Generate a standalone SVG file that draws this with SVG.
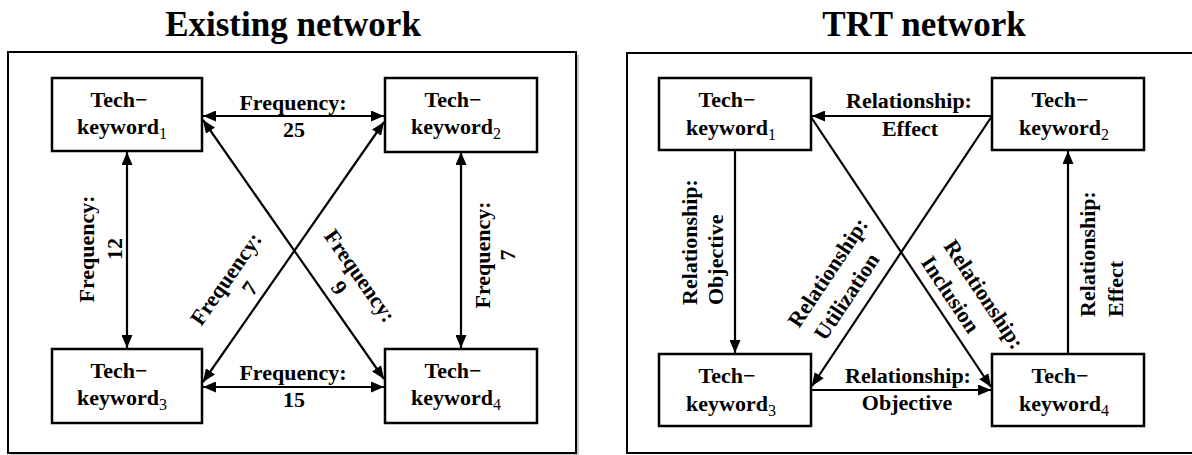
<svg xmlns="http://www.w3.org/2000/svg" width="1192" height="455" viewBox="0 0 1192 455">
<style>
text{font-family:"Liberation Serif","Times New Roman",serif;font-weight:bold;fill:#000}
.t{font-size:35px;text-anchor:middle}
.n{font-size:22px;text-anchor:middle}
.sub{font-size:16px;font-weight:normal}
.l{font-size:22px;text-anchor:middle}
.ls{font-size:22px;text-anchor:start}
.box{fill:#fff;stroke:#000;stroke-width:2.5}
.frame{fill:#fff;stroke:#000;stroke-width:2}
.e{fill:none;stroke:#000;stroke-width:2.2}
.d{marker-start:url(#ah);marker-end:url(#ah)}
.s{marker-end:url(#ah)}
</style>
<defs>
<marker id="ah" viewBox="0 0 13 11" refX="13" refY="5.5" markerWidth="13" markerHeight="11" markerUnits="userSpaceOnUse" orient="auto-start-reverse">
<path d="M0,0 L13,5.5 L0,11 Z" fill="#000"/>
</marker>
</defs>
<rect width="1192" height="455" fill="#fff"/>
<text class="t" x="293" y="36">Existing network</text>
<text class="t" x="924" y="36">TRT network</text>
<g id="frame-left">
<rect x="11" y="55" width="568" height="401" fill="#c8c8c8"/>
<rect class="frame" x="8" y="52" width="568" height="401"/>
</g>
<g id="frame-right">
<rect class="frame" x="627" y="53" width="575" height="400"/>
</g>
<g id="connectors">
<path class="e d" d="M203,116 L384,116"/>
<path class="e d" d="M127,152 L127,348"/>
<path class="e d" d="M461,152 L461,348"/>
<path class="e d" d="M203,387 L384,387"/>
<path class="e d" d="M203,120 L384,379"/>
<path class="e d" d="M384,122 L203,382"/>
<path class="e s" d="M991,116 L812,116"/>
<path class="e s" d="M735,151 L735,353"/>
<path class="e s" d="M1068,353 L1068,151"/>
<path class="e s" d="M812,390 L991,390"/>
<path class="e s" d="M992,116 L812,386"/>
<path class="e s" d="M811,117 L991,387"/>
</g>
<g id="edge-labels">
<text class="l" x="293" y="110">Frequency:</text>
<text class="l" x="294" y="137">25</text>
<text class="l" x="293" y="380">Frequency:</text>
<text class="l" x="294" y="407">15</text>
<g transform="translate(94,249) rotate(-90)"><text class="l" x="0" y="0">Frequency:</text><text class="l" x="0" y="28">12</text></g>
<g transform="translate(490,255) rotate(-90)"><text class="l" x="0" y="0">Frequency:</text><text class="l" x="0" y="25">7</text></g>
<g transform="translate(232,283) rotate(-55)"><text class="l" x="0" y="0">Frequency:</text><text class="l" x="6" y="25">7</text></g>
<g transform="translate(354,280) rotate(55)"><text class="l" x="0" y="0">Frequency:</text><text class="l" x="-2" y="24">9</text></g>
<text class="l" x="909" y="108">Relationship:</text>
<text class="l" x="910" y="136">Effect</text>
<text class="l" x="908" y="383">Relationship:</text>
<text class="l" x="907" y="410">Objective</text>
<g transform="translate(697,305) rotate(-90)"><text class="ls" x="0" y="0">Relationship:</text><text class="ls" x="0" y="26">Objective</text></g>
<g transform="translate(1095,317) rotate(-90)"><text class="ls" x="0" y="0">Relationship:</text><text class="ls" x="0" y="28">Effect</text></g>
<g transform="translate(799,329) rotate(-56.3)"><text class="ls" x="0" y="0">Relationship:</text><text class="ls" x="4" y="29">Utilization</text></g>
<g transform="translate(943,246) rotate(56.3)"><text class="ls" x="0" y="0">Relationship:</text><text class="ls" x="1" y="28">Inclusion</text></g>
</g>
<g id="L1"><rect class="box" x="52" y="78" width="150" height="73"/><text class="n" x="119" y="107">Tech−</text><text class="n" x="122" y="134">keyword<tspan class="sub" dy="5">1</tspan></text></g>
<g id="L2"><rect class="box" x="385" y="78" width="152" height="74"/><text class="n" x="453" y="107">Tech−</text><text class="n" x="456" y="134">keyword<tspan class="sub" dy="5">2</tspan></text></g>
<g id="L3"><rect class="box" x="52" y="349" width="150" height="74"/><text class="n" x="119" y="378">Tech−</text><text class="n" x="122" y="405">keyword<tspan class="sub" dy="5">3</tspan></text></g>
<g id="L4"><rect class="box" x="385" y="349" width="152" height="74"/><text class="n" x="453" y="378">Tech−</text><text class="n" x="456" y="405">keyword<tspan class="sub" dy="5">4</tspan></text></g>
<g id="R1"><rect class="box" x="659" y="78" width="152" height="72"/><text class="n" x="727" y="107">Tech−</text><text class="n" x="731" y="135">keyword<tspan class="sub" dy="5">1</tspan></text></g>
<g id="R2"><rect class="box" x="992" y="78" width="152" height="72"/><text class="n" x="1060" y="107">Tech−</text><text class="n" x="1064" y="135">keyword<tspan class="sub" dy="5">2</tspan></text></g>
<g id="R3"><rect class="box" x="659" y="354" width="152" height="72"/><text class="n" x="727" y="383">Tech−</text><text class="n" x="731" y="411">keyword<tspan class="sub" dy="5">3</tspan></text></g>
<g id="R4"><rect class="box" x="992" y="354" width="152" height="72"/><text class="n" x="1060" y="383">Tech−</text><text class="n" x="1064" y="411">keyword<tspan class="sub" dy="5">4</tspan></text></g>
</svg>
